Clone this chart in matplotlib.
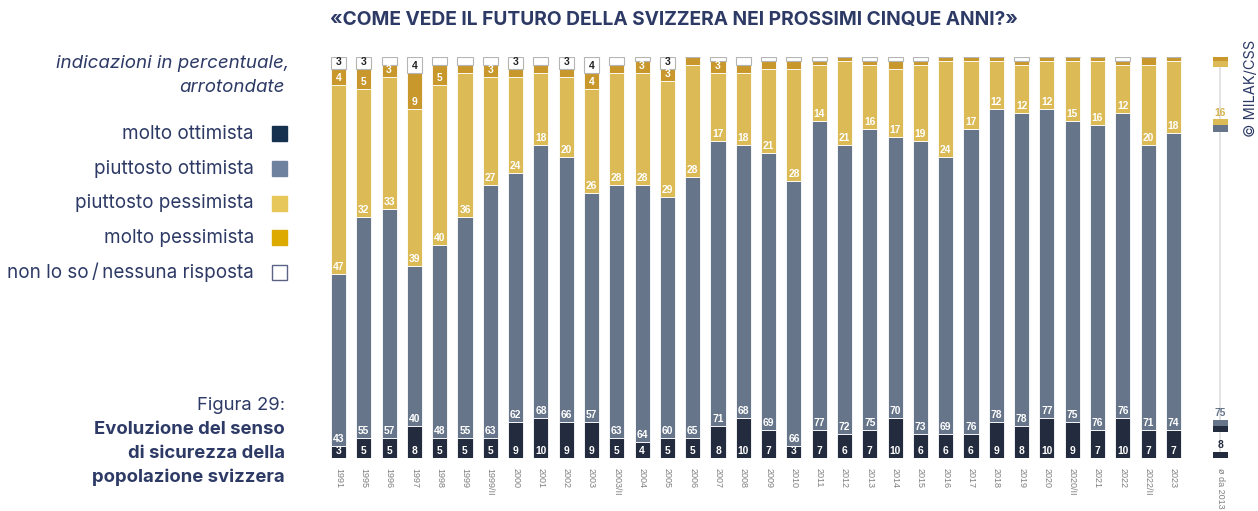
import matplotlib
matplotlib.use("Agg")
import matplotlib.pyplot as plt
from matplotlib.patches import Rectangle
import numpy as np

# ---------------- data ----------------
years = ["1991", "1995", "1996", "1997", "1998", "1999", "1999/II", "2000", "2001", "2002",
         "2003", "2003/II", "2004", "2005", "2006", "2007", "2008", "2009", "2010", "2011",
         "2012", "2013", "2014", "2015", "2016", "2017", "2018", "2019", "2020", "2020/II",
         "2021", "2022", "2022/II", "2023"]
molto_ottimista = [3, 5, 5, 8, 5, 5, 5, 9, 10, 9, 9, 5, 4, 5, 5, 8, 10, 7, 3, 7,
                   6, 7, 10, 6, 6, 6, 9, 8, 10, 9, 7, 10, 7, 7]
piuttosto_ottimista = [43, 55, 57, 40, 48, 55, 63, 62, 68, 66, 57, 63, 64, 60, 65, 71, 68, 69, 66, 77,
                       72, 75, 70, 73, 69, 76, 78, 78, 77, 75, 76, 76, 71, 74]
piuttosto_pessimista = [47, 32, 33, 39, 40, 36, 27, 24, 18, 20, 26, 28, 28, 29, 28, 17, 18, 21, 28, 14,
                        21, 16, 17, 19, 24, 17, 12, 12, 12, 15, 16, 12, 20, 18]
molto_pessimista = [4, 5, 3, 9, 5, 2, 3, 2, 2, 2, 4, 2, 3, 3, 2, 3, 2, 2, 2, 1,
                    1, 1, 2, 1, 1, 1, 1, 1, 1, 1, 1, 1, 2, 1]
non_lo_so = [3, 3, 2, 4, 2, 2, 2, 3, 2, 3, 4, 2, 1, 3, 0, 1, 2, 1, 1, 1,
             0, 1, 1, 1, 0, 0, 0, 1, 0, 0, 0, 1, 0, 0]

avg_label = "ø da 2013"
avg_values = [8, 75, 16, 1, 0]

legend_names = ["molto ottimista", "piuttosto ottimista", "piuttosto pessimista",
                "molto pessimista", "non lo so\u2009/\u2009nessuna risposta"]

title = "«COME VEDE IL FUTURO DELLA SVIZZERA NEI PROSSIMI CINQUE ANNI?»"

# ---------------- style ----------------
bar_colors = ["#232b3f", "#66758a", "#dcbb57", "#c9982d", "#ffffff"]
legend_colors = ["#16304f", "#6e82a0", "#e8c75a", "#dcaa00", "#ffffff"]
label_colors = ["white", "white", "white", "white", "#222222"]
navy = "#2d3a66"

W, H = 1258, 511
fig = plt.figure(figsize=(W / 100, H / 100), dpi=100)

def fx(px):
    return px / W

def fy(py):
    return 1 - py / H

# main axes mapping: y 0..100 -> px 458..57, index spacing 25.3 px, index 0 at 338.5
spacing = 25.3
x0 = 338.5
xmin, xmax = -0.6, 35.6
left_px = x0 + xmin * spacing
right_px = x0 + xmax * spacing
ax = fig.add_axes([fx(left_px), fy(458), (right_px - left_px) / W, (458 - 57) / H])
ax.set_xlim(xmin, xmax)
ax.set_ylim(0, 100)
for s in ax.spines.values():
    s.set_visible(False)
ax.set_yticks([])

series = [molto_ottimista, piuttosto_ottimista, piuttosto_pessimista, molto_pessimista, non_lo_so]
x = np.arange(len(years))
bw = 0.6
bottom = np.zeros(len(years))
for k, vals in enumerate(series):
    vals = np.array(vals, dtype=float)
    if k == 4:
        ax.bar(x, vals, bw, bottom=bottom, color=bar_colors[k], edgecolor="#b5b5b5",
               linewidth=0.8, zorder=2)
    else:
        ax.bar(x, vals, bw, bottom=bottom, color=bar_colors[k], edgecolor="white",
               linewidth=0.6, zorder=2)
    for i, v in enumerate(vals):
        if v >= 3:
            ax.text(x[i], bottom[i] + 0.5, f"{int(v)}", ha="center", va="bottom",
                    fontsize=7.4, fontweight="bold", color=label_colors[k],
                    family="Liberation Sans", zorder=3)
    bottom += vals

# average marker column
xa = 34.85
ax.plot([xa, xa], [0, 100], color="#e3e3e3", lw=1.4, zorder=1)
cum = 0
stub_h = 1.6
for k, v in enumerate(avg_values):
    if v <= 0:
        continue
    start, end = cum, cum + v
    h = min(stub_h, v)
    ax.bar([xa], [h], bw, bottom=start, color=bar_colors[k], linewidth=0, zorder=2)
    ax.bar([xa], [h], bw, bottom=end - h, color=bar_colors[k], linewidth=0, zorder=2)
    if v >= 3:
        lab_col = bar_colors[k] if k != 2 else "#d4b24c"
        ax.text(xa, start + stub_h + 0.3, f"{v}", ha="center", va="bottom", fontsize=7.4,
                fontweight="bold", color=lab_col, family="Liberation Sans", zorder=3)
    cum = end

ax.set_xticks(list(x) + [xa])
ax.set_xticklabels(years + [avg_label], rotation=270, fontsize=6.5, color="#7f7f7f",
                   family="Liberation Sans")
ax.tick_params(axis="x", length=0, pad=7)
for t in ax.get_xticklabels():
    t.set_va("top")
    t.set_ha("center")

# ---------------- texts ----------------
fig.text(fx(674), fy(20), title, ha="center", va="center", fontsize=13.8,
         fontweight="bold", color=navy, family="Inter")

fig.text(fx(289), fy(64), "indicazioni in percentuale,", ha="right", va="center",
         fontsize=13.5, style="italic", color=navy, family="Inter")
fig.text(fx(285), fy(88), "arrotondate", ha="right", va="center",
         fontsize=13.5, style="italic", color=navy, family="Inter")

leg_y = [134, 169, 203.5, 238, 272.5]
for name, col, yy in zip(legend_names, legend_colors, leg_y):
    fig.text(fx(254), fy(yy), name, ha="right", va="center", fontsize=13.6,
             color=navy, family="Inter")
    ec = col if col != "#ffffff" else "#5a6385"
    fig.patches.append(Rectangle((fx(272), fy(yy + 7.5)), 15 / W, 15 / H,
                                 transform=fig.transFigure, facecolor=col,
                                 edgecolor=ec, linewidth=1.0))

fig.text(fx(285), fy(405), "Figura 29:", ha="right", va="center", fontsize=13.3,
         color=navy, family="Inter")
for txt, yy in zip(["Evoluzione del senso", "di sicurezza della", "popolazione svizzera"],
                   [430, 453.5, 477]):
    fig.text(fx(285), fy(yy), txt, ha="right", va="center", fontsize=13.3,
             fontweight="bold", color=navy, family="Inter")

fig.text(fx(1251), fy(88), "© MILAK/CSS", rotation=90, ha="center", va="center",
         fontsize=10.5, color=navy, family="Inter")

fig.savefig("out.png", dpi=100)
